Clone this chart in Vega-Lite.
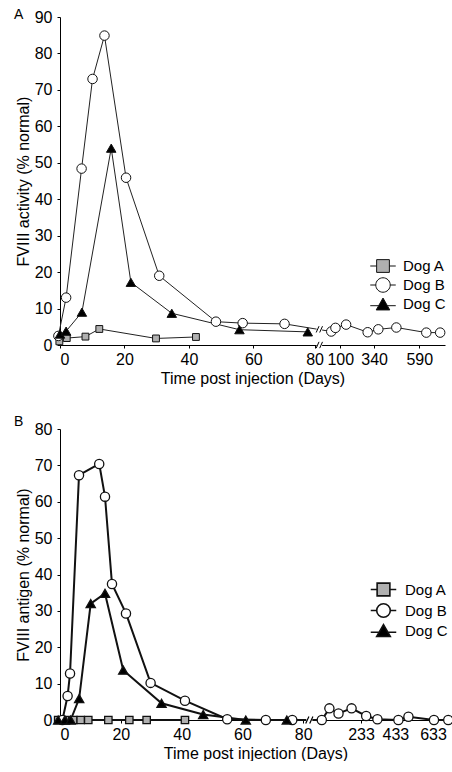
{
  "$schema": "https://vega.github.io/schema/vega-lite/v6.json",
  "padding": {"left": 14, "top": 8, "right": 0, "bottom": 0},
  "spacing": 29,
  "resolve": {"scale": {"shape": "independent", "fill": "independent"}, "legend": {"shape": "independent", "fill": "independent"}},
  "config": {
    "font": "Liberation Sans",
    "view": {"stroke": null},
    "axis": {"grid": false, "domainColor": "black", "tickColor": "black", "labelColor": "black", "titleColor": "black", "labelFontSize": 16, "titleFontSize": 16, "titleFontWeight": "normal", "labelOverlap": false, "labelSeparation": 0, "labelFont": "Liberation Sans", "titleFont": "Liberation Sans"},
    "legend": {"labelFont": "Liberation Sans", "labelFontSize": 15, "labelColor": "black"},
    "title": {"font": "Liberation Sans", "fontWeight": "normal", "color": "black"}
  },
  "datasets": {
    "a": [
      {"dog": "Dog A", "t": -0.2, "v": 1.0}, {"dog": "Dog A", "t": 2.1, "v": 1.9}, {"dog": "Dog A", "t": 7.9, "v": 2.3}, {"dog": "Dog A", "t": 12.2, "v": 4.4}, {"dog": "Dog A", "t": 29.8, "v": 1.8}, {"dog": "Dog A", "t": 42.2, "v": 2.2},
      {"dog": "Dog B", "t": -0.5, "v": 2.5}, {"dog": "Dog B", "t": 1.9, "v": 13}, {"dog": "Dog B", "t": 6.7, "v": 48.4}, {"dog": "Dog B", "t": 10.1, "v": 73}, {"dog": "Dog B", "t": 13.8, "v": 84.9}, {"dog": "Dog B", "t": 20.5, "v": 45.9}, {"dog": "Dog B", "t": 30.8, "v": 19}, {"dog": "Dog B", "t": 48.4, "v": 6.4}, {"dog": "Dog B", "t": 56.7, "v": 6.0}, {"dog": "Dog B", "t": 69.7, "v": 5.8}, {"dog": "Dog B", "t": 84.2, "v": 3.7}, {"dog": "Dog B", "t": 85.5, "v": 4.7}, {"dog": "Dog B", "t": 88.8, "v": 5.6}, {"dog": "Dog B", "t": 95.5, "v": 3.5}, {"dog": "Dog B", "t": 98.8, "v": 4.3}, {"dog": "Dog B", "t": 104.4, "v": 4.8}, {"dog": "Dog B", "t": 113.7, "v": 3.4}, {"dog": "Dog B", "t": 118, "v": 3.4},
      {"dog": "Dog C", "t": 0, "v": 3.0}, {"dog": "Dog C", "t": 1.9, "v": 3.8}, {"dog": "Dog C", "t": 6.8, "v": 9.0}, {"dog": "Dog C", "t": 15.9, "v": 54}, {"dog": "Dog C", "t": 22, "v": 17.2}, {"dog": "Dog C", "t": 34.7, "v": 8.7}, {"dog": "Dog C", "t": 55.7, "v": 4.2}, {"dog": "Dog C", "t": 76.9, "v": 3.6}
    ],
    "b": [
      {"dog": "Dog A", "t": -0.6, "v": 0}, {"dog": "Dog A", "t": 1.6, "v": 0}, {"dog": "Dog A", "t": 4.4, "v": 0}, {"dog": "Dog A", "t": 6.8, "v": 0}, {"dog": "Dog A", "t": 9.3, "v": 0}, {"dog": "Dog A", "t": 15.9, "v": 0}, {"dog": "Dog A", "t": 22.8, "v": 0}, {"dog": "Dog A", "t": 28.5, "v": 0}, {"dog": "Dog A", "t": 41.1, "v": 0},
      {"dog": "Dog B", "t": 0.8, "v": 0}, {"dog": "Dog B", "t": 2.5, "v": 6.6}, {"dog": "Dog B", "t": 3.3, "v": 12.8}, {"dog": "Dog B", "t": 6.25, "v": 67.3}, {"dog": "Dog B", "t": 12.9, "v": 70.4}, {"dog": "Dog B", "t": 14.8, "v": 61.4}, {"dog": "Dog B", "t": 17.1, "v": 37.4}, {"dog": "Dog B", "t": 21.7, "v": 29.3}, {"dog": "Dog B", "t": 29.8, "v": 10.2}, {"dog": "Dog B", "t": 41.1, "v": 5.3}, {"dog": "Dog B", "t": 55, "v": 0.2}, {"dog": "Dog B", "t": 67.7, "v": 0}, {"dog": "Dog B", "t": 76.4, "v": 0}, {"dog": "Dog B", "t": 86.1, "v": 0}, {"dog": "Dog B", "t": 88.6, "v": 3.2}, {"dog": "Dog B", "t": 91.6, "v": 1.8}, {"dog": "Dog B", "t": 95.9, "v": 3.2}, {"dog": "Dog B", "t": 100.7, "v": 1.1}, {"dog": "Dog B", "t": 104.4, "v": 0.2}, {"dog": "Dog B", "t": 111.3, "v": 0}, {"dog": "Dog B", "t": 114.6, "v": 0.9}, {"dog": "Dog B", "t": 123, "v": 0}, {"dog": "Dog B", "t": 127.7, "v": 0},
      {"dog": "Dog C", "t": -0.6, "v": 0}, {"dog": "Dog C", "t": 1.6, "v": 0}, {"dog": "Dog C", "t": 3.5, "v": 0}, {"dog": "Dog C", "t": 6.3, "v": 5.9}, {"dog": "Dog C", "t": 10.1, "v": 32}, {"dog": "Dog C", "t": 14.8, "v": 34.8}, {"dog": "Dog C", "t": 20.8, "v": 13.7}, {"dog": "Dog C", "t": 33.4, "v": 4.6}, {"dog": "Dog C", "t": 47.1, "v": 1.5}, {"dog": "Dog C", "t": 61.1, "v": 0}, {"dog": "Dog C", "t": 74.6, "v": 0}
    ],
    "brkA": [{"t": 80.5, "v": 0}, {"t": 80.5, "v": 4.3}],
    "brkB": [{"t": 82, "v": 0}]
  },
  "vconcat": [
    {
      "width": 385,
      "height": 328,
      "title": {"text": "A", "anchor": "start", "frame": "group", "dx": -46, "fontSize": 14, "fontWeight": "normal", "font": "Liberation Sans", "offset": -13},
      "resolve": {"scale": {"shape": "independent", "fill": "independent"}, "legend": {"shape": "independent", "fill": "independent"}},
      "layer": [
        {
          "data": {"name": "a"},
          "mark": {"type": "line", "color": "#222222", "strokeWidth": 1},
          "encoding": {
            "x": {"field": "t", "type": "quantitative", "scale": {"domain": [0, 119.5], "nice": false, "zero": false},
              "axis": {"values": [0, 20, 40, 60, 79, 87, 97.5, 111.5], "labelExpr": "datum.value > 78 && datum.value < 80 ? '80' : datum.value > 85 && datum.value < 90 ? '100' : datum.value > 95 && datum.value < 100 ? '340' : datum.value > 110 ? '590' : datum.label", "tickSize": 3, "labelPadding": 3, "titlePadding": 3, "labelFontSize": 16, "titleFontSize": 16, "labelOverlap": false, "titleFontWeight": "normal"},
              "title": "Time post injection (Days)"},
            "y": {"field": "v", "type": "quantitative", "scale": {"domain": [0, 90], "nice": false},
              "axis": {"values": [0, 10, 20, 30, 40, 50, 60, 70, 80, 90], "tickCount": 10, "tickSize": 3, "labelPadding": 5, "titlePadding": 3, "labelFontSize": 16, "titleFontSize": 16, "labelOverlap": false, "labelSeparation": 0, "titleFontWeight": "normal"},
              "title": "FVIII activity (% normal)"},
            "detail": {"field": "dog"},
            "order": {"field": "t"}
          }
        },
        {
          "mark": {"type": "rule", "stroke": "#777777", "strokeDash": [3, 3], "strokeWidth": 1},
          "encoding": {"y": {"datum": 1.8, "type": "quantitative"}}
        },
        {
          "data": {"name": "a"},
          "mark": {"type": "point", "filled": true, "stroke": "#111111", "strokeWidth": 1, "opacity": 1, "size": 90},
          "encoding": {
            "x": {"field": "t", "type": "quantitative"},
            "y": {"field": "v", "type": "quantitative"},
            "shape": {"field": "dog", "type": "nominal", "scale": {"domain": ["Dog A", "Dog B", "Dog C"], "range": ["M-0.72,-0.72H0.72V0.72H-0.72Z", "circle", "triangle-up"]}, "legend": null},
            "fill": {"field": "dog", "type": "nominal", "scale": {"domain": ["Dog A", "Dog B", "Dog C"], "range": ["#b0b0b0", "#ffffff", "#000000"]}, "legend": null}
          }
        },
        {
          "data": {"name": "a"},
          "transform": [{"filter": "datum.t > 10000"}],
          "mark": {"type": "point", "filled": true, "stroke": "#111111", "strokeWidth": 1, "opacity": 1},
          "encoding": {
            "x": {"field": "t", "type": "quantitative"},
            "y": {"field": "v", "type": "quantitative"},
            "shape": {"field": "dog", "type": "nominal", "scale": {"domain": ["Dog A", "Dog B", "Dog C"], "range": ["M-1.5,0H-0.75M0.75,0H1.5M-0.75,-0.75H0.75V0.75H-0.75Z", "M-1.5,0H-0.85M0.85,0H1.5M-0.85,0A0.85,0.85,0,1,1,0.85,0A0.85,0.85,0,1,1,-0.85,0Z", "M-1.5,0.2H-0.5M0.5,0.2H1.5M0,-0.7L0.8,0.7H-0.8Z"]},
              "legend": {"title": null, "orient": "none", "legendX": 314, "legendY": 240, "symbolSize": 289, "symbolStrokeWidth": 1, "symbolOpacity": 1, "labelOffset": 11, "rowPadding": 0, "labelFontSize": 15, "labelFont": "Liberation Sans",
                "encode": {"symbols": {"update": {"stroke": {"value": "#111111"}, "strokeWidth": {"value": 1}}}}}},
            "fill": {"field": "dog", "type": "nominal", "scale": {"domain": ["Dog A", "Dog B", "Dog C"], "range": ["#b0b0b0", "#ffffff", "#000000"]},
              "legend": {"title": null, "orient": "none", "legendX": 314, "legendY": 240, "symbolSize": 289, "symbolStrokeWidth": 1, "symbolOpacity": 1, "labelOffset": 11, "rowPadding": 0, "labelFontSize": 15, "labelFont": "Liberation Sans",
                "encode": {"symbols": {"update": {"stroke": {"value": "#111111"}, "strokeWidth": {"value": 1}}}}}}
          }
        },
        {
          "data": {"name": "brkA"},
          "mark": {"type": "point", "shape": "square", "filled": true, "fill": "white", "strokeWidth": 0, "size": 30, "opacity": 1},
          "encoding": {"x": {"field": "t", "type": "quantitative"}, "y": {"field": "v", "type": "quantitative"}}
        },
        {
          "data": {"name": "brkA"},
          "mark": {"type": "point", "shape": "M-0.9,0.9L-0.1,-0.9M0.1,0.9L0.9,-0.9", "filled": false, "stroke": "black", "strokeWidth": 1, "size": 49, "opacity": 1},
          "encoding": {"x": {"field": "t", "type": "quantitative"}, "y": {"field": "v", "type": "quantitative"}}
        }
      ]
    },
    {
      "width": 391,
      "height": 291,
      "title": {"text": "B", "anchor": "start", "frame": "group", "dx": -46, "fontSize": 14, "fontWeight": "normal", "font": "Liberation Sans", "offset": -8},
      "resolve": {"scale": {"shape": "independent", "fill": "independent"}, "legend": {"shape": "independent", "fill": "independent"}},
      "layer": [
        {
          "data": {"name": "b"},
          "mark": {"type": "line", "color": "#111111", "strokeWidth": 2},
          "encoding": {
            "x": {"field": "t", "type": "quantitative", "scale": {"domain": [0, 128.6], "nice": false, "zero": false},
              "axis": {"values": [0, 20, 40, 60, 80, 99, 110.3, 122.7], "labelExpr": "datum.value > 95 && datum.value < 105 ? '233' : datum.value > 105 && datum.value < 115 ? '433' : datum.value > 115 ? '633' : datum.label", "tickSize": 3, "labelPadding": 3, "titlePadding": 3, "labelFontSize": 16, "titleFontSize": 16, "labelOverlap": false, "titleFontWeight": "normal"},
              "title": "Time post injection (Days)"},
            "y": {"field": "v", "type": "quantitative", "scale": {"domain": [0, 80], "nice": false},
              "axis": {"values": [0, 10, 20, 30, 40, 50, 60, 70, 80], "tickCount": 9, "tickSize": 3, "labelPadding": 5, "titlePadding": 3, "labelFontSize": 16, "titleFontSize": 16, "labelOverlap": false, "labelSeparation": 0, "titleFontWeight": "normal"},
              "title": "FVIII antigen (% normal)"},
            "detail": {"field": "dog"},
            "order": {"field": "t"}
          }
        },
        {
          "data": {"name": "b"},
          "mark": {"type": "point", "filled": true, "stroke": "#111111", "strokeWidth": 1.3, "opacity": 1, "size": 85},
          "encoding": {
            "x": {"field": "t", "type": "quantitative"},
            "y": {"field": "v", "type": "quantitative"},
            "shape": {"field": "dog", "type": "nominal", "scale": {"domain": ["Dog A", "Dog B", "Dog C"], "range": ["M-0.8,-0.8H0.8V0.8H-0.8Z", "circle", "triangle-up"]}, "legend": null},
            "fill": {"field": "dog", "type": "nominal", "scale": {"domain": ["Dog A", "Dog B", "Dog C"], "range": ["#b0b0b0", "#ffffff", "#000000"]}, "legend": null}
          }
        },
        {
          "data": {"name": "b"},
          "transform": [{"filter": "datum.t > 10000"}],
          "mark": {"type": "point", "filled": true, "stroke": "#111111", "strokeWidth": 1.6, "opacity": 1},
          "encoding": {
            "x": {"field": "t", "type": "quantitative"},
            "y": {"field": "v", "type": "quantitative"},
            "shape": {"field": "dog", "type": "nominal", "scale": {"domain": ["Dog A", "Dog B", "Dog C"], "range": ["M-1.5,0H-0.75M0.75,0H1.5M-0.75,-0.75H0.75V0.75H-0.75Z", "M-1.5,0H-0.8M0.8,0H1.5M-0.8,0A0.8,0.8,0,1,1,0.8,0A0.8,0.8,0,1,1,-0.8,0Z", "M-1.5,0.2H-0.5M0.5,0.2H1.5M0,-0.7L0.8,0.7H-0.8Z"]},
              "legend": {"title": null, "orient": "none", "legendX": 314, "legendY": 151, "symbolSize": 289, "symbolStrokeWidth": 1.6, "symbolOpacity": 1, "labelOffset": 12, "rowPadding": 0, "labelFontSize": 15, "labelFont": "Liberation Sans",
                "encode": {"symbols": {"update": {"stroke": {"value": "#111111"}, "strokeWidth": {"value": 1.6}}}}}},
            "fill": {"field": "dog", "type": "nominal", "scale": {"domain": ["Dog A", "Dog B", "Dog C"], "range": ["#b0b0b0", "#ffffff", "#000000"]},
              "legend": {"title": null, "orient": "none", "legendX": 314, "legendY": 151, "symbolSize": 289, "symbolStrokeWidth": 1.6, "symbolOpacity": 1, "labelOffset": 12, "rowPadding": 0, "labelFontSize": 15, "labelFont": "Liberation Sans",
                "encode": {"symbols": {"update": {"stroke": {"value": "#111111"}, "strokeWidth": {"value": 1.6}}}}}}
          }
        },
        {
          "data": {"name": "brkB"},
          "mark": {"type": "point", "shape": "square", "filled": true, "fill": "white", "strokeWidth": 0, "size": 36, "opacity": 1},
          "encoding": {"x": {"field": "t", "type": "quantitative"}, "y": {"field": "v", "type": "quantitative"}}
        },
        {
          "data": {"name": "brkB"},
          "mark": {"type": "point", "shape": "M-0.9,0.9L-0.1,-0.9M0.1,0.9L0.9,-0.9", "filled": false, "stroke": "black", "strokeWidth": 1.2, "size": 64, "opacity": 1},
          "encoding": {"x": {"field": "t", "type": "quantitative"}, "y": {"field": "v", "type": "quantitative"}}
        }
      ]
    }
  ]
}
